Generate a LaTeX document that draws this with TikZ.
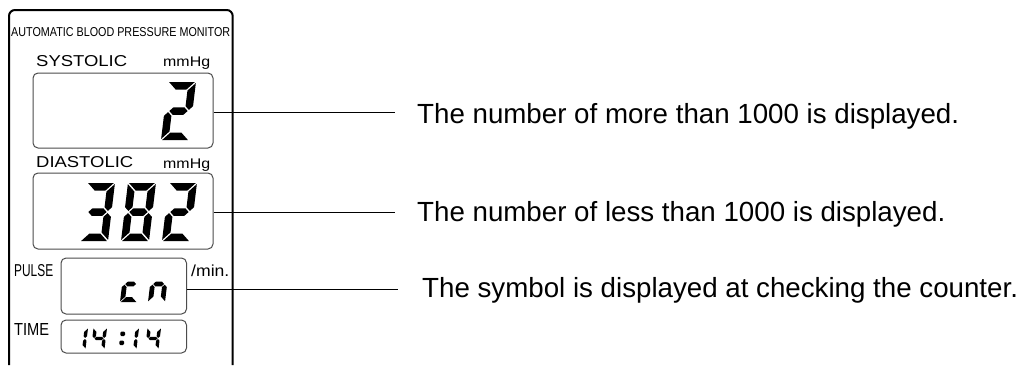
\documentclass[tikz,border=0pt]{standalone}
\usepackage{fontspec}
\setmainfont{Liberation Sans}
\setsansfont{Liberation Sans}
\usepackage{graphicx}

% seven-segment helpers (local coords: origin bottom-left, v downwards, top at -\dH)
\newcommand\sgA{\fill ({\dG},{-\dH}) -- ({\dW-\dG},{-\dH}) -- ({\dW-\dT-\dG},{-\dH+\dT}) -- ({\dT+\dG},{-\dH+\dT}) -- cycle;}
\newcommand\sgD{\fill ({\dG},0) -- ({\dW-\dG},0) -- ({\dW-\dT-\dG},{-\dT}) -- ({\dT+\dG},{-\dT}) -- cycle;}
\newcommand\sgG{\fill ({\dT/2+\dG},{-\dH/2}) -- ({\dT+\dG},{-\dH/2-\dT/2}) -- ({\dW-\dT-\dG},{-\dH/2-\dT/2}) -- ({\dW-\dT/2-\dG},{-\dH/2}) -- ({\dW-\dT-\dG},{-\dH/2+\dT/2}) -- ({\dT+\dG},{-\dH/2+\dT/2}) -- cycle;}
\newcommand\sgF{\fill (0,{-\dH+\dG}) -- ({\dT},{-\dH+\dT+\dG}) -- ({\dT},{-\dH/2-\dT/2-\dG}) -- ({\dT/2},{-\dH/2-\dG}) -- (0,{-\dH/2-\dT/2-\dG}) -- cycle;}
\newcommand\sgE{\fill (0,{-\dG}) -- ({\dT},{-\dT-\dG}) -- ({\dT},{-\dH/2+\dT/2+\dG}) -- ({\dT/2},{-\dH/2+\dG}) -- (0,{-\dH/2+\dT/2+\dG}) -- cycle;}
\newcommand\sgB{\fill ({\dW},{-\dH+\dG}) -- ({\dW-\dT},{-\dH+\dT+\dG}) -- ({\dW-\dT},{-\dH/2-\dT/2-\dG}) -- ({\dW-\dT/2},{-\dH/2-\dG}) -- ({\dW},{-\dH/2-\dT/2-\dG}) -- cycle;}
\newcommand\sgC{\fill ({\dW},{-\dG}) -- ({\dW-\dT},{-\dT-\dG}) -- ({\dW-\dT},{-\dH/2+\dT/2+\dG}) -- ({\dW-\dT/2},{-\dH/2+\dG}) -- ({\dW},{-\dH/2+\dT/2+\dG}) -- cycle;}
% x0 y0 W H T slant gap segments
\newcommand\lcddigit[8]{%
  \begin{scope}[shift={(#1,#2)},xslant=#6]
    \def\dW{#3}\def\dH{#4}\def\dT{#5}\def\dG{#7}%
    #8
  \end{scope}}
\newcommand\bigdig[3]{\lcddigit{#1}{#2}{28}{58}{7.5}{0.12}{1.1}{#3}}
\newcommand\middig[3]{\lcddigit{#1}{#2}{17}{36}{4.8}{0.12}{0.7}{#3}}
\newcommand\smldig[3]{\lcddigit{#1}{#2}{13.5}{21}{3.4}{0.12}{0.55}{#3}}

\begin{document}
\begin{tikzpicture}[x=1pt,y=-1pt,
  frame/.style={draw=black,line width=2pt,rounded corners=6pt},
  lcd/.style={draw=black!70,line width=1pt,rounded corners=5pt,inner sep=0pt,fill=none},
  leader/.style={draw=black,line width=1.4pt},
  lbl/.style={inner sep=0pt,anchor=west},
  unit/.style={inner sep=0pt,anchor=base west},
  note/.style={inner sep=0pt,anchor=base west,font=\fontsize{27.7}{30}\selectfont}]
\useasboundingbox[fill=white] (0,0) rectangle (1021,365);

% outer frame of the monitor
\draw[frame] (9,365) -- (9,10) -- (232.7,10) -- (232.7,365);

\node[lbl] (title) at (11,32.5) {\resizebox{219pt}{9pt}{AUTOMATIC BLOOD PRESSURE MONITOR}};

% systolic
\node[lbl] (syslbl) at (36,61.2) {\resizebox{91pt}{11pt}{SYSTOLIC}};
\node[unit,font=\fontsize{14}{14}\selectfont] (sysunit) at (163,66.7) {\scalebox{1.14}[1]{mmHg}};
\node[lcd,minimum width=180pt,minimum height=75pt] (sys) at (123,110.5) {};
\bigdig{161}{140}{\sgA\sgB\sgG\sgE\sgD}

% diastolic
\node[lbl] (dialbl) at (36,162.5) {\resizebox{97pt}{11pt}{DIASTOLIC}};
\node[unit,font=\fontsize{14}{14}\selectfont] (diaunit) at (163,168.2) {\scalebox{1.14}[1]{mmHg}};
\node[lcd,minimum width=180pt,minimum height=76pt] (dia) at (123,211) {};
\bigdig{80}{241}{\sgA\sgB\sgG\sgC\sgD}
\bigdig{121}{241}{\sgA\sgB\sgC\sgD\sgE\sgF\sgG}
\bigdig{162}{241}{\sgA\sgB\sgG\sgE\sgD}

% pulse
\node[lbl] (pullbl) at (14,271) {\resizebox{39pt}{12pt}{PULSE}};
\node[unit,font=\fontsize{16}{16}\selectfont] (pulunit) at (191,276.5) {\scalebox{1.1}[1]{/min.}};
\node[lcd,minimum width=125.5pt,minimum height=56pt] (pul) at (123.75,286) {};
\middig{120}{302}{\sgG\sgE\sgD}
\middig{148}{302}{\sgG\sgE\sgC}

% time
\node[lbl] (timelbl) at (14,329) {\resizebox{35pt}{12pt}{TIME}};
\node[lcd,minimum width=125.5pt,minimum height=33pt] (tim) at (123.75,336.5) {};
\smldig{72}{349}{\sgB\sgC}
\smldig{91}{349}{\sgF\sgG\sgB\sgC}
\fill[rounded corners=1.2pt] (120.4,331.5) rectangle +(4.6,4.6);
\fill[rounded corners=1.2pt] (119.4,340.5) rectangle +(4.6,4.6);
\smldig{123}{349}{\sgB\sgC}
\smldig{145}{349}{\sgF\sgG\sgB\sgC}

% explanations
\node[note] (t1) at (417,123.3) {The number of more than 1000 is displayed.};
\node[note] (t2) at (417,221.7) {The number of less than 1000 is displayed.};
\node[note] (t3) at (422,297) {The symbol is displayed at checking the counter.};
\coordinate (e1) at (395,112.7);
\coordinate (e2) at (395,212.7);
\coordinate (e3) at (398,289.3);
\draw[leader] (sys.east |- e1) -- (e1);
\draw[leader] (dia.east |- e2) -- (e2);
\draw[leader] (pul.east |- e3) -- (e3);
\end{tikzpicture}
\end{document}
